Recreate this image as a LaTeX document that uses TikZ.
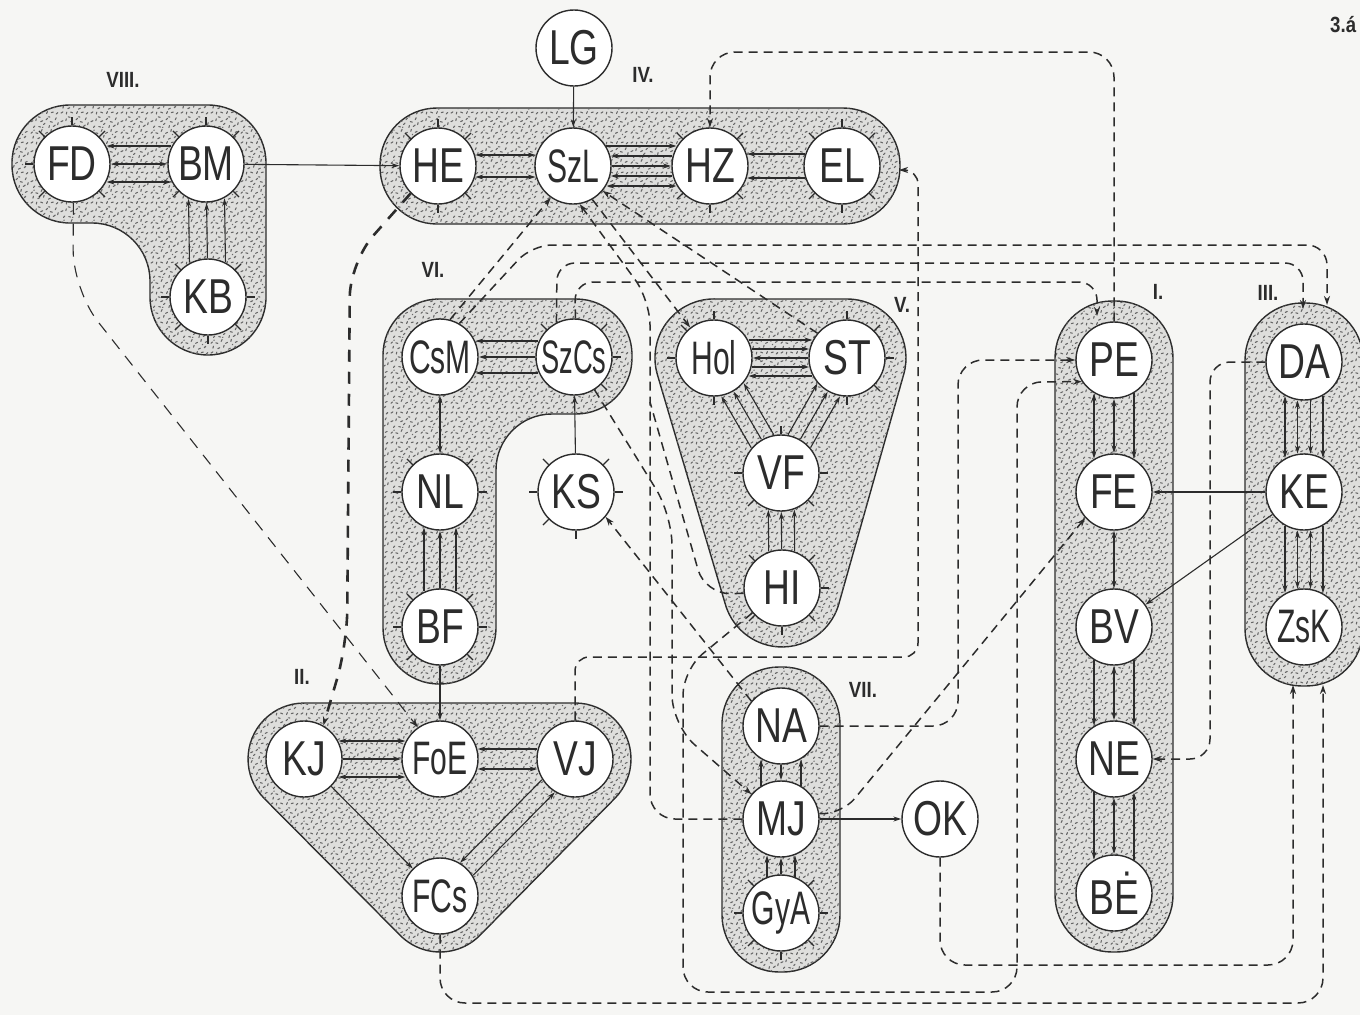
\documentclass[tikz,border=0pt]{standalone}
\usepackage{graphicx}
\usepackage{fontspec}
\setmainfont{Liberation Sans}
\usetikzlibrary{calc,arrows.meta,patterns.meta}
\definecolor{ink}{HTML}{2C2C2C}
\definecolor{paper}{HTML}{F6F6F4}
\definecolor{stipbg}{HTML}{DEDEDC}
\pgfdeclarelayer{bg}
\pgfsetlayers{bg,main}
\tikzdeclarepattern{
  name=stip, type=uncolored,
  bounding box={(0pt,0pt) and (30pt,30pt)},
  tile size={(30pt,30pt)},
  code={
    \draw[line width=1.1pt, line cap=round]
      (1pt,2pt)--(3pt,3.2pt) (6.5pt,1pt)--(7pt,3pt) (11pt,3pt)--(13pt,2.2pt)
      (17pt,1.5pt)--(18pt,3.5pt) (22pt,2.5pt)--(24pt,3pt) (27pt,1pt)--(28.5pt,2.5pt)
      (3pt,7pt)--(3.6pt,9pt) (8pt,6.5pt)--(10pt,7.5pt) (14pt,8pt)--(14.5pt,10pt)
      (19pt,6pt)--(21pt,7pt) (25pt,7.5pt)--(26.5pt,9pt) (1pt,12pt)--(2.5pt,13.5pt)
      (6pt,12.5pt)--(8pt,12pt) (11.5pt,14pt)--(12.5pt,16pt) (16pt,12pt)--(18pt,13pt)
      (21.5pt,14pt)--(22pt,16pt) (26pt,13pt)--(28pt,14pt) (3.5pt,18pt)--(5pt,19.5pt)
      (9pt,19pt)--(11pt,18.5pt) (14pt,21pt)--(15.5pt,22.5pt) (19.5pt,18pt)--(20pt,20pt)
      (24pt,19pt)--(26pt,20.5pt) (28.5pt,21pt)--(29pt,23pt) (1pt,24pt)--(3pt,25pt)
      (6pt,25pt)--(6.5pt,27pt) (11pt,24pt)--(13pt,25pt) (16.5pt,26pt)--(18pt,27.5pt)
      (21pt,24pt)--(23pt,23.5pt) (26pt,26pt)--(27pt,28pt) (8.5pt,29pt)--(10.5pt,28.5pt)
      (19pt,29pt)--(20.5pt,28.8pt) (4pt,15pt)--(4.3pt,15.4pt) (23pt,10.5pt)--(23.4pt,11pt)
      (13pt,18pt)--(13.3pt,18.4pt);
  }
}
\newcommand\ntx[1]{\scalebox{0.76}[1]{#1}}
\newcommand\nsx[1]{\scalebox{0.64}[1]{#1}}
\newcommand\nwx[1]{\scalebox{0.58}[1]{#1}}
\newcommand\bnd[4]{%
  \pgfmathsetmacro\bndL{sqrt(1521-(#3)*(#3))}%
  \draw[arr,#4,shorten <=\bndL pt,shorten >=\bndL pt] ($(#1)!#3pt!90:(#2)$) -- ($(#2)!#3pt!-90:(#1)$);}
\newcommand\ticks[2]{\foreach \a in {#2}{\draw[tk] (#1.\a) -- ($(#1.\a)!-8pt!(#1.center)$);}}
\begin{document}
\begin{tikzpicture}[x=1pt,y=1pt,yscale=-1,
  nd/.style={circle,draw=ink,line width=1.4pt,fill=white,minimum size=76pt,inner sep=0pt,text=ink,font=\fontsize{49}{49}\selectfont},
  nds/.style={nd,font=\fontsize{47}{47}\selectfont},
  grp/.style={draw=ink,line width=1.4pt,fill=stipbg,postaction={pattern=stip,pattern color=black!60}},
  arr/.style={draw=ink,line width=1.1pt,>={Stealth[length=8pt,width=5pt]}},
  dsh/.style={draw=ink,line width=1.5pt,dash pattern=on 9pt off 6pt,>={Stealth[length=9pt,width=6pt]}},
  dthin/.style={dsh,line width=1.1pt,dash pattern=on 12pt off 9pt},
  dthick/.style={dsh,line width=2.6pt,dash pattern=on 12pt off 10pt},
  tk/.style={draw=ink,line width=1.2pt},
  lab/.style={font=\fontsize{22}{22}\selectfont\bfseries,text=ink,inner sep=0pt}
]
\useasboundingbox (0,0) rectangle (1360,1015);

% ---------- nodes ----------
\node[nd] (LG) at (574,48) {\ntx{LG}};
\node[nd] (FD) at (72,164) {\ntx{FD}};
\node[nd] (BM) at (206,164) {\ntx{BM}};
\node[nd] (KB) at (208,297) {\ntx{KB}};
\node[nd] (HE) at (438,166) {\ntx{HE}};
\node[nds] (SzL) at (573,166) {\nsx{SzL}};
\node[nd] (HZ) at (710,166) {\ntx{HZ}};
\node[nd] (EL) at (842,166) {\ntx{EL}};
\node[nds] (CsM) at (440,357) {\nsx{CsM}};
\node[nds] (SzCs) at (574,357) {\nwx{SzCs}};
\node[nd] (NL) at (440,492) {\ntx{NL}};
\node[nd] (KS) at (576,492) {\ntx{KS}};
\node[nd] (BF) at (440,627) {\ntx{BF}};
\node[nds] (Hol) at (714,358) {\nsx{Hol}};
\node[nd] (ST) at (847,358) {\ntx{ST}};
\node[nd] (VF) at (781,473) {\ntx{VF}};
\node[nd] (HI) at (782,588) {\ntx{HI}};
\node[nd] (KJ) at (304,759) {\ntx{KJ}};
\node[nds] (FoE) at (440,759) {\nsx{FoE}};
\node[nd] (VJ) at (575,759) {\ntx{VJ}};
\node[nds] (FCs) at (440,896) {\nsx{FCs}};
\node[nd] (NA) at (781,726) {\ntx{NA}};
\node[nd] (MJ) at (781,819) {\ntx{MJ}};
\node[nds] (GyA) at (781,913) {\nsx{GyA}};
\node[nd] (OK) at (940,819) {\ntx{OK}};
\node[nd] (PE) at (1114,360) {\ntx{PE}};
\node[nd] (FE) at (1114,492) {\ntx{FE}};
\node[nd] (BV) at (1114,627) {\ntx{BV}};
\node[nd] (NE) at (1114,759) {\ntx{NE}};
\node[nd] (BE) at (1114,893) {\ntx{BĖ}};
\node[nd] (DA) at (1304,362) {\ntx{DA}};
\node[nd] (KE) at (1304,492) {\ntx{KE}};
\node[nds] (ZsK) at (1304,627) {\nsx{ZsK}};

\coordinate (DAin1) at (1327,305);
\coordinate (DAin2) at (1303,309);
\coordinate (PEin) at (1097,316);
\coordinate (ELin) at (899,170);
\coordinate (ZsKin1) at (1293,685);
\coordinate (ZsKin2) at (1323,685);
\coordinate (join) at (650,402);

% ---------- groups ----------
\begin{pgfonlayer}{bg}
\fill[paper] (0,0) rectangle (1360,1015);
% VIII
\draw[grp,rounded corners=58pt] (139,105) -- (266,105) -- (266,355) -- (150,355) -- (150,223) -- (12,223) -- (12,105) -- cycle;
% IV
\draw[grp,rounded corners=57pt] (380,108) rectangle (900,224);
% VI
\draw[grp,rounded corners=56pt] (500,299) -- (632,299) -- (632,414) -- (496,414) -- (496,684) -- (383,684) -- (383,299) -- cycle;
% V
\draw[grp] (714,299) -- (847,299) arc[start angle=-90,end angle=15.8,radius=59] -- (838.8,604.0) arc[start angle=15.8,end angle=163.5,radius=59] -- (657.4,374.7) arc[start angle=163.5,end angle=270,radius=59] -- cycle;
% II
\draw[grp] (304,703) -- (575,703) arc[start angle=-90,end angle=44.6,radius=56] -- (479.9,935.3) arc[start angle=44.6,end angle=135.2,radius=56] -- (264.3,798.5) arc[start angle=135.2,end angle=270,radius=56] -- cycle;
% VII
\draw[grp,rounded corners=57pt] (722,667) rectangle (840,972);
% I
\draw[grp,rounded corners=57pt] (1055,301) rectangle (1173,952);
% III
\draw[grp,rounded corners=57pt] (1245,303) rectangle (1363,686);
\end{pgfonlayer}

% ---------- labels ----------
\node[lab] (lVIII) at (123,80) {\scalebox{0.85}[1]{VIII.}};
\node[lab] (lIV) at (643,75) {\scalebox{0.85}[1]{IV.}};
\node[lab] (lVI) at (433,270) {\scalebox{0.85}[1]{VI.}};
\node[lab] (lV) at (902,305) {\scalebox{0.85}[1]{V.}};
\node[lab] (lI) at (1158,292) {\scalebox{0.85}[1]{I.}};
\node[lab] (lIII) at (1268,293) {\scalebox{0.85}[1]{III.}};
\node[lab] (lII) at (302,677) {\scalebox{0.85}[1]{II.}};
\node[lab] (lVII) at (863,690) {\scalebox{0.85}[1]{VII.}};
\node[lab,anchor=west] (lfig) at (1330,25) {\scalebox{0.85}[1]{3.á}};

% ---------- solid connectors ----------
\draw[arr,->] (LG) -- (SzL);
\draw[arr,->] (BM) -- (HE);
\draw[arr,->] (BF) -- (FoE);
\draw[arr,->] (KS) -- (SzCs);
\draw[arr,<->] (CsM) -- (NL);
\draw[arr,<->] (FE) -- (BV);
\draw[arr,->] (KE) -- (FE);
\draw[arr,->] (KE) -- (BV);
\draw[arr,->] (MJ) -- (OK);
\draw[arr,->] (KJ) -- (FCs);

\bnd{FD}{BM}{18}{<->} \bnd{FD}{BM}{0}{<->} \bnd{FD}{BM}{-18}{<-}
\bnd{KB}{BM}{-18}{->} \bnd{KB}{BM}{0}{->} \bnd{KB}{BM}{18}{->}
\bnd{HE}{SzL}{11}{<->} \bnd{HE}{SzL}{-11}{<->}
\bnd{SzL}{HZ}{20}{<->} \bnd{SzL}{HZ}{10}{<-} \bnd{SzL}{HZ}{0}{->} \bnd{SzL}{HZ}{-10}{<-} \bnd{SzL}{HZ}{-20}{->}
\bnd{EL}{HZ}{12}{->} \bnd{EL}{HZ}{-12}{->}
\bnd{SzCs}{CsM}{16}{->} \bnd{SzCs}{CsM}{0}{->} \bnd{SzCs}{CsM}{-16}{->}
\bnd{BF}{NL}{16}{->} \bnd{BF}{NL}{0}{->} \bnd{BF}{NL}{-16}{->}
\bnd{Hol}{ST}{18}{<-} \bnd{Hol}{ST}{9}{->} \bnd{Hol}{ST}{0}{<-} \bnd{Hol}{ST}{-9}{->} \bnd{Hol}{ST}{-18}{->}
\bnd{VF}{Hol}{13}{->} \bnd{VF}{Hol}{0}{->} \bnd{VF}{Hol}{-13}{->}
\bnd{VF}{ST}{13}{->} \bnd{VF}{ST}{0}{->} \bnd{VF}{ST}{-13}{->}
\bnd{HI}{VF}{13}{->} \bnd{HI}{VF}{0}{->} \bnd{HI}{VF}{-13}{->}
\bnd{KJ}{FoE}{18}{<->} \bnd{KJ}{FoE}{0}{->} \bnd{KJ}{FoE}{-18}{<->}
\bnd{FoE}{VJ}{10}{<->} \bnd{FoE}{VJ}{-10}{<-}
\bnd{VJ}{FCs}{9}{->} \bnd{VJ}{FCs}{-9}{<-}
\bnd{MJ}{NA}{20}{->} \bnd{MJ}{NA}{0}{<-} \bnd{MJ}{NA}{-20}{->}
\bnd{GyA}{MJ}{14}{->} \bnd{GyA}{MJ}{0}{->} \bnd{GyA}{MJ}{-14}{->}
\bnd{PE}{FE}{-20}{->} \bnd{PE}{FE}{0}{<->} \bnd{PE}{FE}{20}{<->}
\bnd{BV}{NE}{-20}{->} \bnd{BV}{NE}{0}{<->} \bnd{BV}{NE}{20}{->}
\bnd{NE}{BE}{-20}{<-} \bnd{NE}{BE}{0}{<->} \bnd{NE}{BE}{20}{->}
\bnd{DA}{KE}{-19}{->} \bnd{DA}{KE}{-6.5}{->} \bnd{DA}{KE}{6.5}{<->} \bnd{DA}{KE}{19}{<->}
\bnd{KE}{ZsK}{-19}{->} \bnd{KE}{ZsK}{-6.5}{<->} \bnd{KE}{ZsK}{6.5}{<->} \bnd{KE}{ZsK}{19}{->}

% ---------- dashed connectors ----------
\draw[dthin,->,rounded corners=40pt] (FD.-88) -- (73,290) -- (FoE.125);
\draw[dthick,->,rounded corners=35pt] (HE.225) -- (350,262) -- (347,645) -- (KJ.60);
\draw[dsh,->] (CsM.75) -- (SzL.235);
\draw[dsh,->,rounded corners=20pt] (CsM.60) -- (532,245) -- (1327,245) -- (DAin1);
\draw[dsh,->,rounded corners=18pt] (SzCs.117) -- (557,263) -- (1303,263) -- (DAin2);
\draw[dsh,->,rounded corners=18pt] (SzCs.88) -- (575,282) -- (1097,282) -- (PEin);
\draw[dsh,->,rounded corners=25pt] (PE.north) -- (1114,52) -- (710,52) -- (HZ.north);
\draw[dsh,->,rounded corners=14pt] (VJ.north) -- (575,657) -- (918,657) -- (918,170) -- (ELin);
\draw[dsh,->,rounded corners=25pt] (NA.east) -- (958,726) -- (958,360) -- (PE.west);
\draw[dsh,->,rounded corners=25pt] (HI.220) -- (683,670) -- (683,992) -- (1017,992) -- (1017,382) -- (PE.214);
\draw[dsh,->,rounded corners=20pt] (MJ.8) -- (842,814) -- (FE.222);
\draw[dsh,->,rounded corners=25pt] (OK.south) -- (940,965) -- (1293,965) -- (ZsKin1);
\draw[dsh,->,rounded corners=25pt] (FCs.south) -- (440,1003) -- (1323,1003) -- (ZsKin2);
\draw[dsh,->,rounded corners=20pt] (DA.west) -- (1210,362) -- (1210,759) -- (NE.east);
\draw[dsh,->] (NA.140) -- (KS.-40);
\draw[dsh,->,rounded corners=30pt] (SzCs.-58) -- (672,515) -- (672,725) -- (MJ.140);
\draw[dsh,->,rounded corners=25pt] (MJ.west) -- (650,819) -- (650,300) -- (SzL.-80);
\draw[dsh,rounded corners=25pt] (HI.188) -- (705,594) -- (join);
\draw[dsh,->] (SzL.-60) -- (Hol.128);
\draw[dsh,->] (ST.140) -- (SzL.-40);

% ---------- ticks ----------
\ticks{FD}{45,90,135,180,225,315}
\ticks{BM}{45,90,135,225,315}
\ticks{KB}{0,45,135,180,225,270,315}
\ticks{HE}{45,90,135,270,315}
\ticks{HZ}{45,135,225,270,315}
\ticks{EL}{45,90,135,225,270,315}
\ticks{SzCs}{0,45,135,315}
\ticks{NL}{0,45,135,180}
\ticks{KS}{0,45,135,180,225,270}
\ticks{BF}{0,45,135,180,225,315}
\ticks{Hol}{90,135,180,270}
\ticks{ST}{0,45,90,270,315}
\ticks{VF}{0,90,180,225,315}
\ticks{HI}{0,45,135,225,270,315}
\ticks{GyA}{0,45,135,180,225,270,315}
\end{tikzpicture}
\end{document}
